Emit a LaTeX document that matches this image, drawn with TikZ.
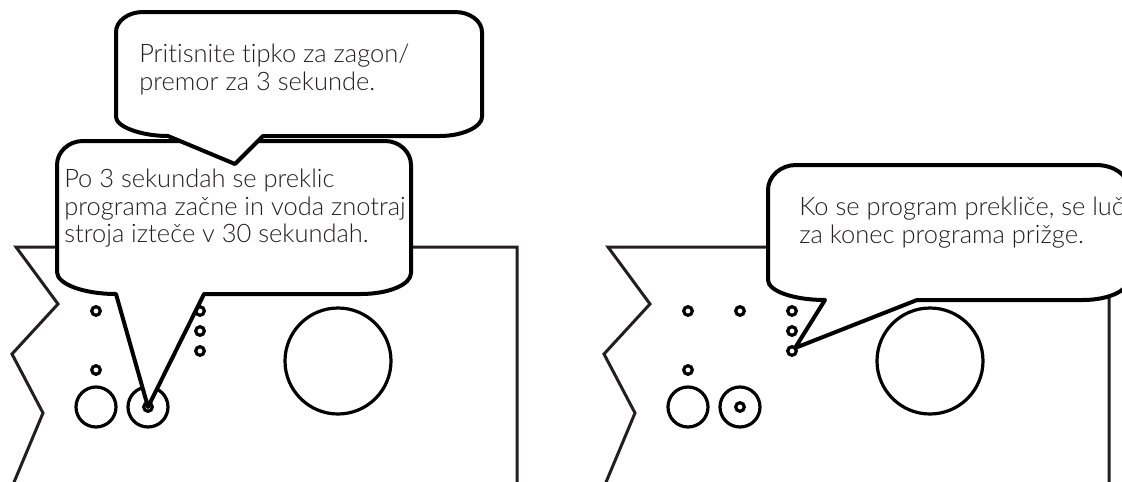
\documentclass[tikz,border=0pt]{standalone}
\usepackage{fontspec}
\setmainfont{Lato Light}[Ligatures=NoCommon]
\usepackage{tikz}
\definecolor{trazo}{HTML}{231F20}
\definecolor{texto}{HTML}{231F20}

\begin{document}
\begin{tikzpicture}[x=0.75pt,y=-0.75pt,
    panel/.style={line width=2.25pt,draw=trazo,line join=miter},
    boton/.style={line width=2.4pt,draw=black},
    bocadillo/.style={line width=3pt,draw=black,fill=white,line join=round},
    txt/.style={anchor=north west,inner sep=0pt,align=left,text=texto,
      font=\fontsize{19.1pt}{20.6pt}\selectfont}]
    \useasboundingbox (0,0) rectangle (1122,482);
    % los dos paneles de mando
    \foreach \dx in {0,592} {
      \begin{scope}[shift={(\dx,0)}]
        \draw[panel] (12,487) -- (43,413) -- (12,354) -- (58,304) -- (16,247)
          -- (517,247) -- (517,487);
        \foreach \x/\y in {96/311,148/311,200/311,200/331,200/351,96/370,148/407}
          \draw[boton] (\x,\y) circle[radius=4.3];
        \draw[boton] (96,407) circle[radius=20];
        \draw[boton] (148,407) circle[radius=20];
        \draw[boton] (338,361) circle[radius=53];
      \end{scope}
    }
    \coordinate (tipka) at (148,407);
    \coordinate (lucfin) at (795,348);
    % bocadillo: preklic del programa
    \draw[bocadillo] (116,294) -- (tipka) -- (204,294) -- (361,294)
      .. controls (388.5,294) and (411,284.6) .. (411,273) -- (411,165)
      .. controls (411,151.8) and (399.3,141) .. (385,141) -- (83,141)
      .. controls (68.7,141) and (57,151.8) .. (57,165) -- (57,272)
      .. controls (57,284.1) and (83.5,294) .. (116,294) -- cycle;
    \node[txt] (preklic) at (64,169) {Po 3 sekundah se preklic\\programa začne in voda znotraj\\stroja izteče v 30 sekundah.};
    % bocadillo: tipka za zagon/premor
    \draw[bocadillo] (168,136) -- (235,164) -- (263,136) -- (440,136)
      .. controls (463.1,136) and (482,126.5) .. (482,117) -- (482,32)
      .. controls (482,21) and (469.9,12) .. (455,12) -- (143,12)
      .. controls (128.1,12) and (116,21) .. (116,32) -- (116,117)
      .. controls (116,126.5) and (140.5,136) .. (168,136) -- cycle;
    \node[txt] (zagon) at (139,44) {Pritisnite tipko za zagon/\\premor za 3 sekunde.};
    % bocadillo: luc za konec programa
    \draw[bocadillo] (825,300) -- (lucfin) -- (917,300) -- (1083,300)
      .. controls (1107.8,300) and (1128,291) .. (1128,280) -- (1128,187)
      .. controls (1128,174.9) and (1113.6,165) .. (1096,165) -- (796,165)
      .. controls (780.6,165) and (768,176.3) .. (768,190) -- (768,280)
      .. controls (768,291) and (793.6,300) .. (825,300) -- cycle;
    \node[txt] (luc) at (799,197) {Ko se program prekliče, se luč\\za konec programa prižge.};
\end{tikzpicture}
\end{document}
